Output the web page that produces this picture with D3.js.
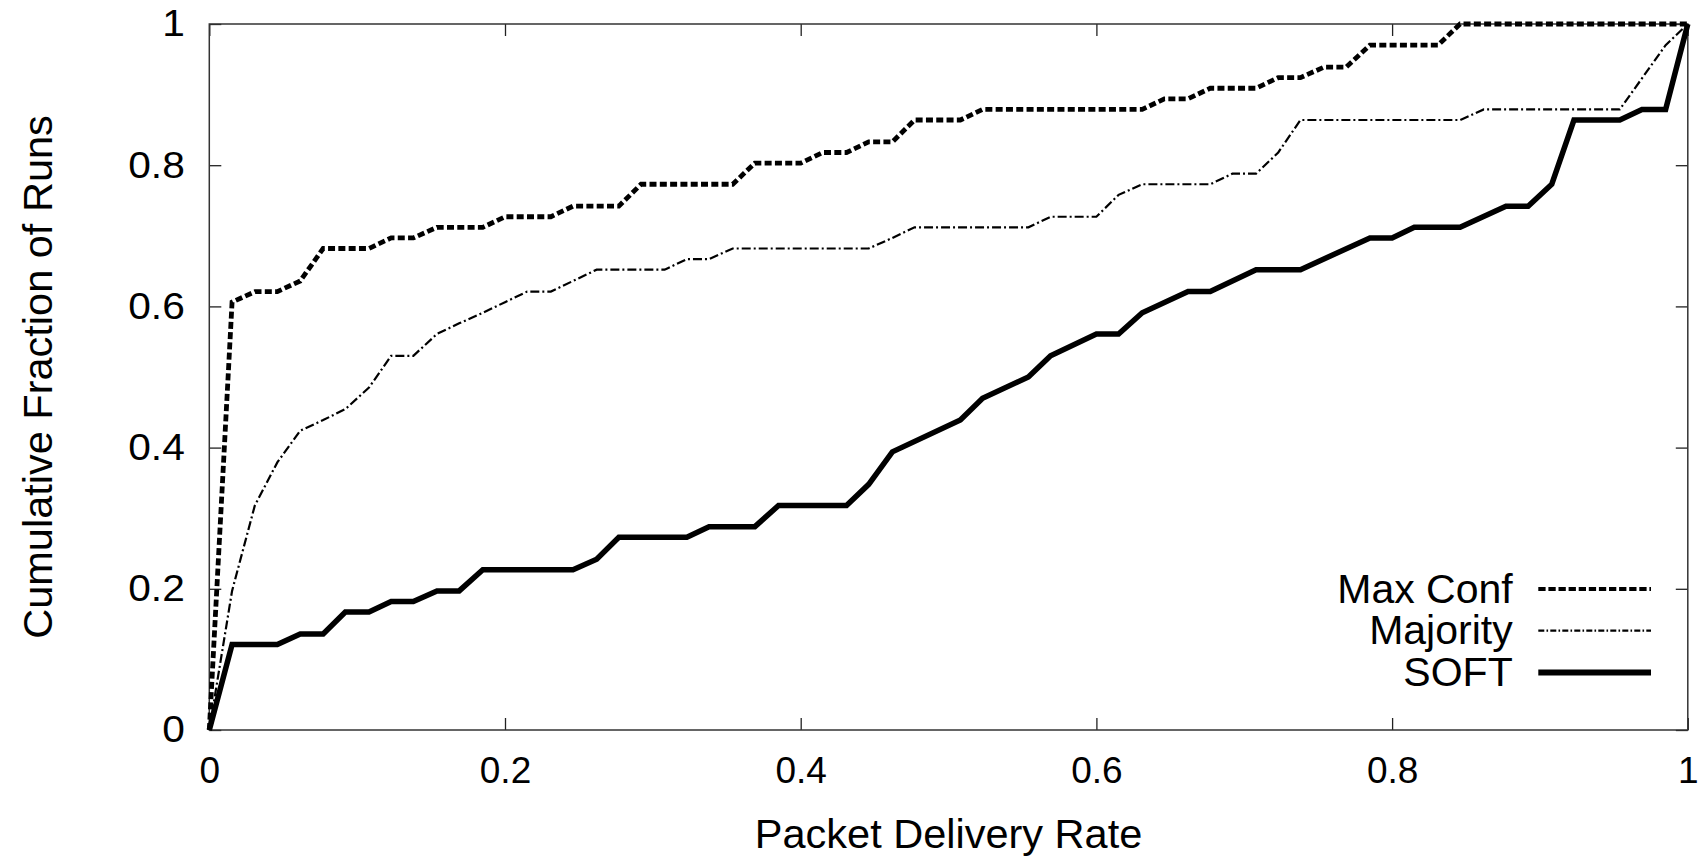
<!DOCTYPE html>
<html><head><meta charset="utf-8">
<script src="https://cdn.jsdelivr.net/npm/d3@7"></script>
<style>body{margin:0;background:#fff}svg{display:block}</style>
</head><body>
<svg id="c" width="1702" height="860"></svg>
<script>
// ---- data ----
const xTicks = [0, 0.2, 0.4, 0.6, 0.8, 1];
const yTicks = [0, 0.2, 0.4, 0.6, 0.8, 1];
const xTickLabels = ["0", "0.2", "0.4", "0.6", "0.8", "1"];
const yTickLabels = ["0", "0.2", "0.4", "0.6", "0.8", "1"];
const xTitle = "Packet Delivery Rate";
const yTitle = "Cumulative Fraction of Runs";
const seriesNames = ["Max Conf", "Majority", "SOFT"];

const maxConfX = [0,0.0154,0.031,0.046,0.0615,0.077,0.108,0.123,0.138,0.154,0.185,0.2,0.231,0.246,0.277,0.292,0.354,0.369,0.4,0.415,0.431,0.446,0.462,0.477,0.508,0.523,0.631,0.646,0.662,0.677,0.708,0.723,0.738,0.754,0.769,0.785,0.831,0.846,1];
const maxConfY = [0,0.606,0.621,0.621,0.636,0.682,0.682,0.697,0.697,0.712,0.712,0.727,0.727,0.742,0.742,0.773,0.773,0.803,0.803,0.818,0.818,0.833,0.833,0.864,0.864,0.879,0.879,0.894,0.894,0.909,0.909,0.924,0.924,0.939,0.939,0.970,0.970,1,1];

const majorityX = [0,0.0154,0.0308,0.046,0.0615,0.077,0.092,0.108,0.123,0.138,0.154,0.169,0.185,0.2,0.215,0.231,0.246,0.262,0.308,0.323,0.338,0.354,0.446,0.462,0.477,0.554,0.569,0.6,0.615,0.631,0.677,0.692,0.708,0.723,0.738,0.846,0.862,0.954,0.985,1];
const majorityY = [0,0.197,0.318,0.379,0.424,0.439,0.4545,0.485,0.530,0.530,0.561,0.576,0.591,0.606,0.621,0.621,0.636,0.652,0.652,0.667,0.667,0.682,0.682,0.697,0.712,0.712,0.727,0.727,0.758,0.773,0.773,0.788,0.788,0.818,0.864,0.864,0.879,0.879,0.970,1];

const softX = [0,0.0154,0.046,0.0615,0.077,0.092,0.108,0.123,0.138,0.154,0.169,0.185,0.246,0.262,0.277,0.323,0.338,0.369,0.385,0.431,0.446,0.462,0.508,0.523,0.554,0.569,0.6,0.615,0.631,0.662,0.677,0.708,0.738,0.785,0.8,0.815,0.846,0.877,0.892,0.908,0.923,0.954,0.969,0.985,1];
const softY = [0,0.121,0.121,0.136,0.136,0.167,0.167,0.182,0.182,0.197,0.197,0.227,0.227,0.242,0.273,0.273,0.288,0.288,0.318,0.318,0.348,0.394,0.439,0.470,0.5,0.530,0.561,0.561,0.591,0.621,0.621,0.652,0.652,0.697,0.697,0.712,0.712,0.742,0.742,0.773,0.864,0.864,0.879,0.879,1];

// ---- layout ----
const W = 1702, H = 860;
const L = 209.3, R = 1687.8, T = 24, B = 730;
const font = "'Liberation Sans', Arial, Helvetica, sans-serif";

const svg = d3.select("#c");
svg.append("rect").attr("width", W).attr("height", H).attr("fill", "#fff");

const x = d3.scaleLinear().domain([0, 1]).range([L, R]);
const y = d3.scaleLinear().domain([0, 1]).range([B, T]);

const tickLen = 12;
const gB = svg.append("g").attr("transform", `translate(0,${B})`)
  .call(d3.axisBottom(x).tickValues(xTicks).tickSize(-tickLen).tickPadding(27)
    .tickFormat((d, i) => xTickLabels[i]));
const gT = svg.append("g").attr("transform", `translate(0,${T})`)
  .call(d3.axisTop(x).tickValues(xTicks).tickSize(-tickLen).tickFormat(""));
const gL = svg.append("g").attr("transform", `translate(${L},0)`)
  .call(d3.axisLeft(y).tickValues(yTicks).tickSize(-tickLen).tickPadding(24.5)
    .tickFormat((d, i) => yTickLabels[i]));
const gR = svg.append("g").attr("transform", `translate(${R},0)`)
  .call(d3.axisRight(y).tickValues(yTicks).tickSize(-tickLen).tickFormat(""));

[gB, gT, gL, gR].forEach(g => {
  g.select(".domain").remove();
  g.selectAll(".tick line").attr("stroke", "#222").attr("stroke-width", 1.3);
  g.selectAll(".tick text").attr("font-family", font).attr("font-size", 37).attr("fill", "#000");
});
// y tick labels are slightly wider in the reference
gL.selectAll(".tick text").each(function () {
  const n = this.getComputedTextLength();
  d3.select(this).attr("textLength", n * 1.1).attr("lengthAdjust", "spacingAndGlyphs");
});

svg.append("rect").attr("x", L).attr("y", T).attr("width", R - L).attr("height", B - T)
  .attr("fill", "none").attr("stroke", "#333").attr("stroke-width", 1.5);

svg.append("text").attr("x", (L + R) / 2).attr("y", 848).attr("text-anchor", "middle")
  .attr("font-family", font).attr("font-size", 41.5).text(xTitle);
svg.append("text").attr("transform", `translate(52,${(T + B) / 2}) rotate(-90)`)
  .attr("text-anchor", "middle").attr("font-family", font).attr("font-size", 41.5).text(yTitle);

const styles = [
  { w: 4.8, dash: "7,3.3", legendDash: "7.3,2.8" },
  { w: 2.2, dash: "9,3,2,3", legendDash: "6,2.2,1.6,2.2" },
  { w: 5.5, dash: null, legendDash: null }
];
const series = [
  d3.zip(maxConfX, maxConfY),
  d3.zip(majorityX, majorityY),
  d3.zip(softX, softY)
];
const line = d3.line().x(d => x(d[0])).y(d => y(d[1]));

series.forEach((s, i) => {
  const p = svg.append("path").attr("d", line(s)).attr("fill", "none")
    .attr("stroke", "#000").attr("stroke-width", styles[i].w)
    .attr("stroke-linejoin", "miter").attr("stroke-linecap", "butt");
  if (styles[i].dash) p.attr("stroke-dasharray", styles[i].dash);
});

const legX = 1512.7, legBase = 602.7, legStep = 41.7;
const legL = 1538.3, legR = 1651;
seriesNames.forEach((name, i) => {
  const by = legBase + i * legStep;
  svg.append("text").attr("x", legX).attr("y", by).attr("text-anchor", "end")
    .attr("font-family", font).attr("font-size", 41).text(name);
  const l = svg.append("line").attr("x1", legL).attr("x2", legR)
    .attr("y1", by - 13.7).attr("y2", by - 13.7)
    .attr("stroke", "#000").attr("stroke-width", i === 2 ? 6 : (i === 0 ? 4 : 2.2));
  if (styles[i].legendDash) l.attr("stroke-dasharray", styles[i].legendDash);
});
</script>
</body></html>
